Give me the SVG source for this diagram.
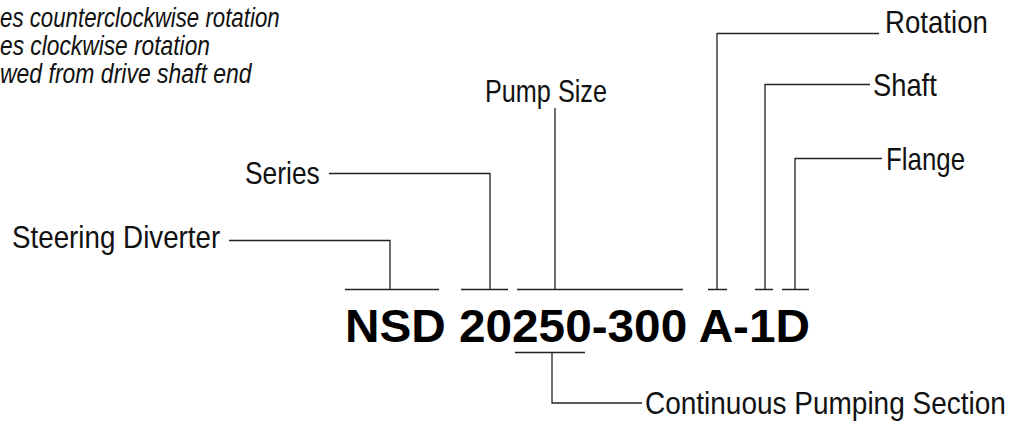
<svg xmlns="http://www.w3.org/2000/svg" width="1015" height="422" viewBox="0 0 1015 422">
  <style>
    .lbl { font-family: "Liberation Sans Narrow", "Liberation Sans", Arial, sans-serif; font-size: 32px; fill: #111; }
    .note { font-family: "Liberation Sans Narrow", "Liberation Sans", Arial, sans-serif; font-size: 27px; font-style: italic; fill: #111; }
    .code { font-family: "Liberation Sans", Arial, sans-serif; font-size: 47px; font-weight: bold; fill: #000; }
    .ln { fill: none; stroke: #222; stroke-width: 1.3; }
  </style>
  <rect width="1015" height="422" fill="#fff"/>

  <g id="note">
    <text class="note" transform="translate(0,27) scale(0.85,1)" textLength="329" lengthAdjust="spacingAndGlyphs">es counterclockwise rotation</text>
    <text class="note" transform="translate(0,55) scale(0.85,1)" textLength="247" lengthAdjust="spacingAndGlyphs">es clockwise rotation</text>
    <text class="note" transform="translate(0,83) scale(0.85,1)" textLength="296" lengthAdjust="spacingAndGlyphs">wed from drive shaft end</text>
  </g>

  <g id="code">
    <text class="code" x="345" y="342" textLength="465" lengthAdjust="spacingAndGlyphs">NSD 20250-300 A-1D</text>
  </g>

  <g id="steering-diverter">
    <text class="lbl" transform="translate(12,248) scale(0.85,1)" textLength="245" lengthAdjust="spacingAndGlyphs">Steering Diverter</text>
  </g>
  <g id="series">
    <text class="lbl" transform="translate(245,183.5) scale(0.85,1)" textLength="88" lengthAdjust="spacingAndGlyphs">Series</text>
  </g>
  <g id="pump-size">
    <text class="lbl" transform="translate(485,102) scale(0.85,1)" textLength="143.5" lengthAdjust="spacingAndGlyphs">Pump Size</text>
  </g>
  <g id="rotation">
    <text class="lbl" transform="translate(885,33) scale(0.85,1)" textLength="121" lengthAdjust="spacingAndGlyphs">Rotation</text>
  </g>
  <g id="shaft">
    <text class="lbl" transform="translate(873,96) scale(0.85,1)" textLength="75" lengthAdjust="spacingAndGlyphs">Shaft</text>
  </g>
  <g id="flange">
    <text class="lbl" transform="translate(886,170) scale(0.85,1)" textLength="93" lengthAdjust="spacingAndGlyphs">Flange</text>
  </g>
  <g id="continuous-pumping-section">
    <text class="lbl" transform="translate(645,414) scale(0.85,1)" textLength="424.5" lengthAdjust="spacingAndGlyphs">Continuous Pumping Section</text>
  </g>

  <g id="connectors" class="ln">
    <path d="M345,289.5 H439 M229,240.5 H390 V289.5"/>
    <path d="M461,289.5 H508 M329,173.5 H490 V289.5"/>
    <path d="M517,289.5 H683 M555,108 V289.5"/>
    <path d="M708,289.5 H727 M879,33.5 H717 V289.5"/>
    <path d="M755,289.5 H773 M870,84.5 H765 V289.5"/>
    <path d="M782,289.5 H809 M882,158.5 H795 V289.5"/>
    <path d="M515,352.5 H585 M552,352.5 V403 H642"/>
  </g>
</svg>
